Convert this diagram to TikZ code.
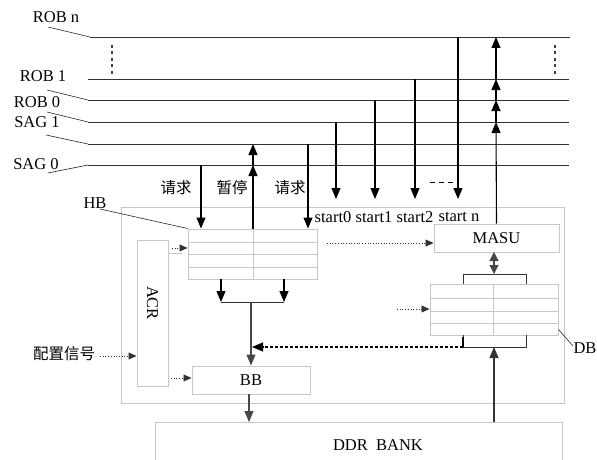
\documentclass[tikz,border=0pt]{standalone}
\usepackage{fontspec}
\setmainfont{Liberation Serif}
\newfontfamily\cjk{Noto Sans CJK SC}
\usetikzlibrary{arrows.meta}
\begin{document}
\begin{tikzpicture}[x=1pt,y=-1pt,
  bus/.style={draw=black!80, line width=0.9pt},
  lead/.style={draw=black!85, line width=0.6pt},
  box/.style={draw=black!22, line width=1pt, inner sep=0pt, rectangle},
  grid/.style={draw=black!22, line width=1pt},
  arr/.style={-{Triangle[length=11pt,width=9pt]}, line width=1.1pt, draw=black},
  garr/.style={-{Triangle[length=11pt,width=9pt]}, line width=1.1pt, draw=black!72},
  dotarr/.style={dotted, -{Triangle[length=8pt,width=7pt]}, line width=0.7pt, draw=black!80},
  lbl/.style={font=\fontsize{16.5}{19}\selectfont, inner sep=0pt},
  clbl/.style={font=\cjk\fontsize{15.5}{18}\selectfont, inner sep=0pt},
]
\useasboundingbox (0,0) rectangle (597,460);

% ---------- bus lines ----------
\coordinate (nL) at (90,37);  \coordinate (nR) at (570,37);
\coordinate (r1L) at (88,79); \coordinate (r1R) at (569,79);
\coordinate (r0L) at (88,100); \coordinate (r0R) at (569,100);
\coordinate (s1L) at (88,122); \coordinate (s1R) at (569,122);
\coordinate (s0L) at (88,144); \coordinate (s0R) at (569,144);
\coordinate (s9L) at (88,165); \coordinate (s9R) at (569,165);
\foreach \a/\b in {nL/nR,r1L/r1R,r0L/r0R,s1L/s1R,s0L/s0R,s9L/s9R}
  \draw[bus] (\a) -- (\b);

% labels and leaders
\node[lbl] (robn) at (56,17) {ROB n};
\node[lbl] (rob1) at (43,76) {ROB 1};
\node[lbl] (rob0) at (37,102) {ROB 0};
\node[lbl] (sag1) at (37,122) {SAG 1};
\node[lbl] (sag0) at (36,164) {SAG 0};
\coordinate (ln) at (48,27);  \draw[lead] (ln) -- (nL);
\coordinate (l0) at (47,90);  \draw[lead] (l0) -- (r0L);
\coordinate (l1) at (47,112); \draw[lead] (l1) -- (s1L);
\coordinate (l2) at (46,135); \draw[lead] (l2) -- (s0L);
\coordinate (l3) at (48,173); \draw[lead] (l3) -- (s9L);

% dotted ellipses between ROB 1 and ROB n
\coordinate (da) at (112,45); \coordinate (db) at (112,77);
\draw[black!75, line width=1.6pt, dash pattern=on 3pt off 3.5pt] (da) -- (db);
\coordinate (dc) at (555,45); \coordinate (dd) at (555,75);
\draw[black!75, line width=1.6pt, dash pattern=on 3pt off 3.5pt] (dc) -- (dd);

% ---------- boxes ----------
\node[box, minimum width=443, minimum height=196] (outer) at (342.5,305) {};
\node[box, minimum width=129, minimum height=50] (hb) at (252.5,254) {};
\foreach \y in {242,254,267} \draw[grid] (188,\y) -- (317,\y);
\draw[grid] (253,229) -- (253,279);
\node[box, minimum width=125, minimum height=28] (masu) at (496.5,238) {};
\node[lbl] at (masu.center) {MASU};
\node[box, minimum width=128, minimum height=51] (db) at (494,309.5) {};
\foreach \y in {298,311,323} \draw[grid] (430,\y) -- (558,\y);
\draw[grid] (493,284) -- (493,335);
\node[box, minimum width=118, minimum height=28] (bb) at (251,380) {};
\node[lbl] at (bb.center) {BB};
\node[box, minimum width=31, minimum height=146] (acr) at (152.5,313) {};
\node[lbl, rotate=-90] at (152.5,303) {ACR};
\coordinate (acrs) at (168,253); \coordinate (acrt) at (182,253);
\draw[grid] (acrs) -- (acrt);
\node[box, minimum width=407, minimum height=60] (ddr) at (358.5,452) {};
\node[lbl] at (378,445) {DDR\ \ BANK};

% ---------- labels ----------
\node[lbl] (hbl) at (95,203) {HB};
\coordinate (hbl1) at (100,209);
\draw[lead] (hbl1) -- (hb.north west);
\node[lbl] (dbl) at (585,348) {DB};
\coordinate (dbl1) at (573,346);
\draw[lead] (db.south east) ++(0,-6) -- (dbl1);
\node[clbl] (q1) at (176,188) {请求};
\node[clbl] (zt) at (232,188) {暂停};
\node[clbl] (q2) at (290,188) {请求};
\node[clbl] (cfg) at (64,354) {配置信号};
\node[lbl] (st0) at (333,217) {start0};
\node[lbl] (st1) at (374,217) {start1};
\node[lbl] (st2) at (415,217) {start2};
\node[lbl] (stn) at (459,217) {start n};

% ---------- vertical request/pause arrows ----------
\coordinate (q1a) at (201,165);
\draw[arr] (q1a) -- (q1a |- hb.north);
\coordinate (zt0) at (253,229); \coordinate (zt1) at (253,165); \coordinate (zt2) at (253,144);
\draw[arr] (zt0) -- (zt1);
\draw[arr] (zt1) -- (zt2);
\coordinate (q2a) at (308,144);
\draw[arr] (q2a) -- (q2a |- hb.north);

% start arrows
\coordinate (sa0) at (336,122); \coordinate (sb0) at (336,199);
\coordinate (sa1) at (375,100); \coordinate (sb1) at (375,199);
\coordinate (sa2) at (415,79);  \coordinate (sb2) at (415,199);
\coordinate (san) at (458,37);  \coordinate (sbn) at (458,199);
\foreach \a/\b in {sa0/sb0,sa1/sb1,sa2/sb2,san/sbn} \draw[arr] (\a) -- (\b);
\coordinate (dsa) at (430,182); \coordinate (dsb) at (454,182);
\draw[black, line width=1pt, dash pattern=on 5pt off 4pt] (dsa) -- (dsb);

% MASU up arrow with arrowheads at every ROB line
\coordinate (u1) at (496,122);
\coordinate (u2) at (496,100); \coordinate (u3) at (496,79); \coordinate (u4) at (496,37);
\draw[arr] (masu.north) -- (u1);
\draw[arr] (u1) -- (u2);
\draw[arr] (u2) -- (u3);
\draw[arr] (u3) -- (u4);

% HB output merge
\coordinate (ha) at (221,279); \coordinate (hc) at (221,302);
\coordinate (hbb) at (284,279); \coordinate (hd) at (284,302);
\coordinate (hm) at (251,302);
\draw[arr] (ha) -- (hc);
\draw[arr] (hbb) -- (hd);
\draw[line width=1pt, black!80] (hc) -- (hd);
\draw[garr] (hm) -- (hm |- bb.north);

% DB brackets
\coordinate (bt1) at (463,284); \coordinate (bt2) at (463,274);
\coordinate (bt3) at (526,274); \coordinate (bt4) at (526,284);
\draw[line width=1pt, black!80] (bt1) -- (bt2) -- (bt3) -- (bt4);
\coordinate (bb1) at (463,335); \coordinate (bb2) at (463,347);
\coordinate (bb3) at (526,347); \coordinate (bb4) at (526,335);
\draw[line width=1pt, black!80] (bb1) -- (bb2) -- (bb3) -- (bb4);
\coordinate (bk) at (463,337);
\draw[line width=2.2pt, black] (bk) -- (bb2);
\coordinate (mdA) at (494,252); \coordinate (mdB) at (494,274);
\draw[{Triangle[length=9pt,width=9pt]}-{Triangle[length=9pt,width=9pt]}, line width=1.1pt, black!72] (mdA) -- (mdB);
\coordinate (up1) at (494,422); \coordinate (up2) at (494,347);
\draw[arr, draw=black!80] (up1) -- (up2);
\coordinate (dsh) at (252,347);
\draw[densely dashed, line width=1.1pt, -{Triangle[length=11pt,width=9pt]}] (bb2) -- (dsh);

% BB -> DDR
\coordinate (bd1) at (249,394); \coordinate (bd2) at (249,422);
\draw[garr] (bd1) -- (bd2);

% dotted control arrows
\coordinate (c1a) at (100,356);
\draw[dotarr] (c1a) -- (c1a -| acr.west);
\coordinate (c2a) at (172,248);
\draw[dotarr] (c2a) -- (c2a -| hb.west);
\coordinate (c3a) at (171,378);
\draw[dotarr] (c3a) -- (c3a -| bb.west);
\coordinate (c4a) at (327,243);
\draw[dotarr] (c4a) -- (c4a -| masu.west);
\coordinate (c5a) at (397,309);
\draw[dotarr] (c5a) -- (c5a -| db.west);
\end{tikzpicture}
\end{document}
